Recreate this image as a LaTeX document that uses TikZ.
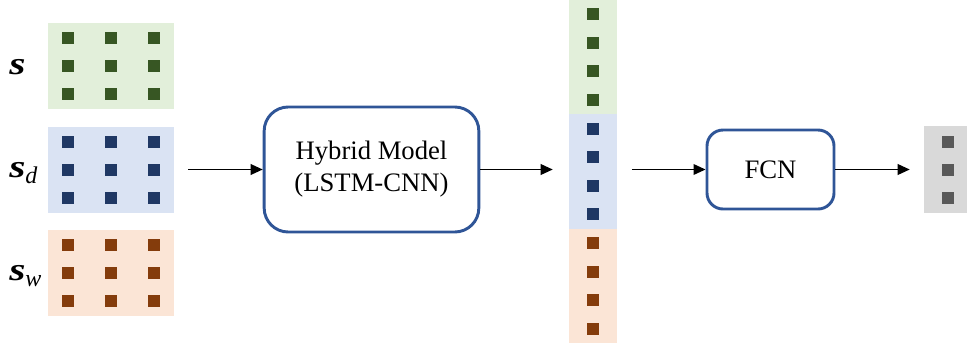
\documentclass[tikz,border=0pt]{standalone}
\usepackage{fontspec}
\setmainfont{Liberation Serif}
\usetikzlibrary{arrows.meta,positioning}
\definecolor{greenbg}{HTML}{E2EFDA}
\definecolor{greendot}{HTML}{375623}
\definecolor{bluebg}{HTML}{DAE3F3}
\definecolor{bluedot}{HTML}{1F3864}
\definecolor{orangebg}{HTML}{FBE5D6}
\definecolor{orangedot}{HTML}{843C0C}
\definecolor{graybg}{HTML}{D9D9D9}
\definecolor{graydot}{HTML}{595959}
\definecolor{boxline}{HTML}{2F5597}
\newcommand{\seqvar}{\scalebox{1.3}[1]{\bfseries\itshape s}}
\newcommand{\seqsub}[1]{\raisebox{-4.5pt}{\fontsize{18}{18}\selectfont\itshape #1}}
\begin{document}
\begin{tikzpicture}[x=0.75pt,y=-0.75pt]
				\useasboundingbox (0,0) rectangle (967,350);
				\tikzstyle{panel}=[inner sep=0,minimum width=94.5pt,minimum height=64.5pt]
				\tikzstyle{strip}=[inner sep=0,minimum width=36pt,minimum height=86pt]
				\tikzstyle{dot}=[inner sep=0,minimum size=9pt]
				\tikzstyle{model}=[draw=boxline,line width=2.2pt,align=center,font=\fontsize{20}{24}\selectfont]
				\tikzstyle{arr}=[-{Triangle[length=9pt,width=8pt]},line width=1.1pt]
				\tikzstyle{var label}=[anchor=base west,inner sep=0,font=\fontsize{24}{24}\selectfont]
				\node(s)[panel,fill=greenbg] at (111,66){};
				\node(sd)[panel,fill=bluebg] at (111,169.5){};
				\node(sw)[panel,fill=orangebg] at (111,272.5){};
				\foreach \p/\c in {s/greendot,sd/bluedot,sw/orangedot}
					\foreach \i in {-1,0,1}
						\foreach \j in {-1,0,1}
							\node[dot,fill=\c] at ([shift={(43*\i,28*\j)}]\p){};
				\node(ls)[var label] at (9,74){\seqvar};
				\node(lsd)[var label] at (9,177){\seqvar\seqsub{d}};
				\node(lsw)[var label] at (9,280){\seqvar\seqsub{w}};
				\node(hybrid)[model,rounded corners=18pt,minimum width=161pt,minimum height=93.75pt] at (371.5,169.5){Hybrid Model\\(LSTM-CNN)};
				\node(vg)[strip,fill=greenbg] at (593,57){};
				\node(vb)[strip,fill=bluebg] at (593,171.5){};
				\node(vo)[strip,fill=orangebg] at (593,286){};
				\foreach \p/\c in {vg/greendot,vb/bluedot,vo/orangedot}
					\foreach \k in {-1.5,-0.5,0.5,1.5}
						\node[dot,fill=\c] at ([shift={(0,28.6*\k)}]\p){};
				\node(fcn)[model,rounded corners=12pt,minimum width=95.25pt,minimum height=59.25pt] at (770.5,169.5){FCN};
				\node(out)[inner sep=0,minimum width=36pt,minimum height=65.25pt,fill=graybg] at (948,169.5){};
				\foreach \j in {-1,0,1}
					\node[dot,fill=graydot] at ([shift={(0,28*\j)}]out){};
				\draw[arr,shorten <=10.5pt](sd)--(hybrid);
				\draw[arr,shorten >=12pt](hybrid)--(hybrid -| vb.west);
				\draw[arr,shorten <=11pt](vb.east |- fcn)--(fcn);
				\draw[arr,shorten >=10.5pt](fcn)--(out);
			\end{tikzpicture}
\end{document}
